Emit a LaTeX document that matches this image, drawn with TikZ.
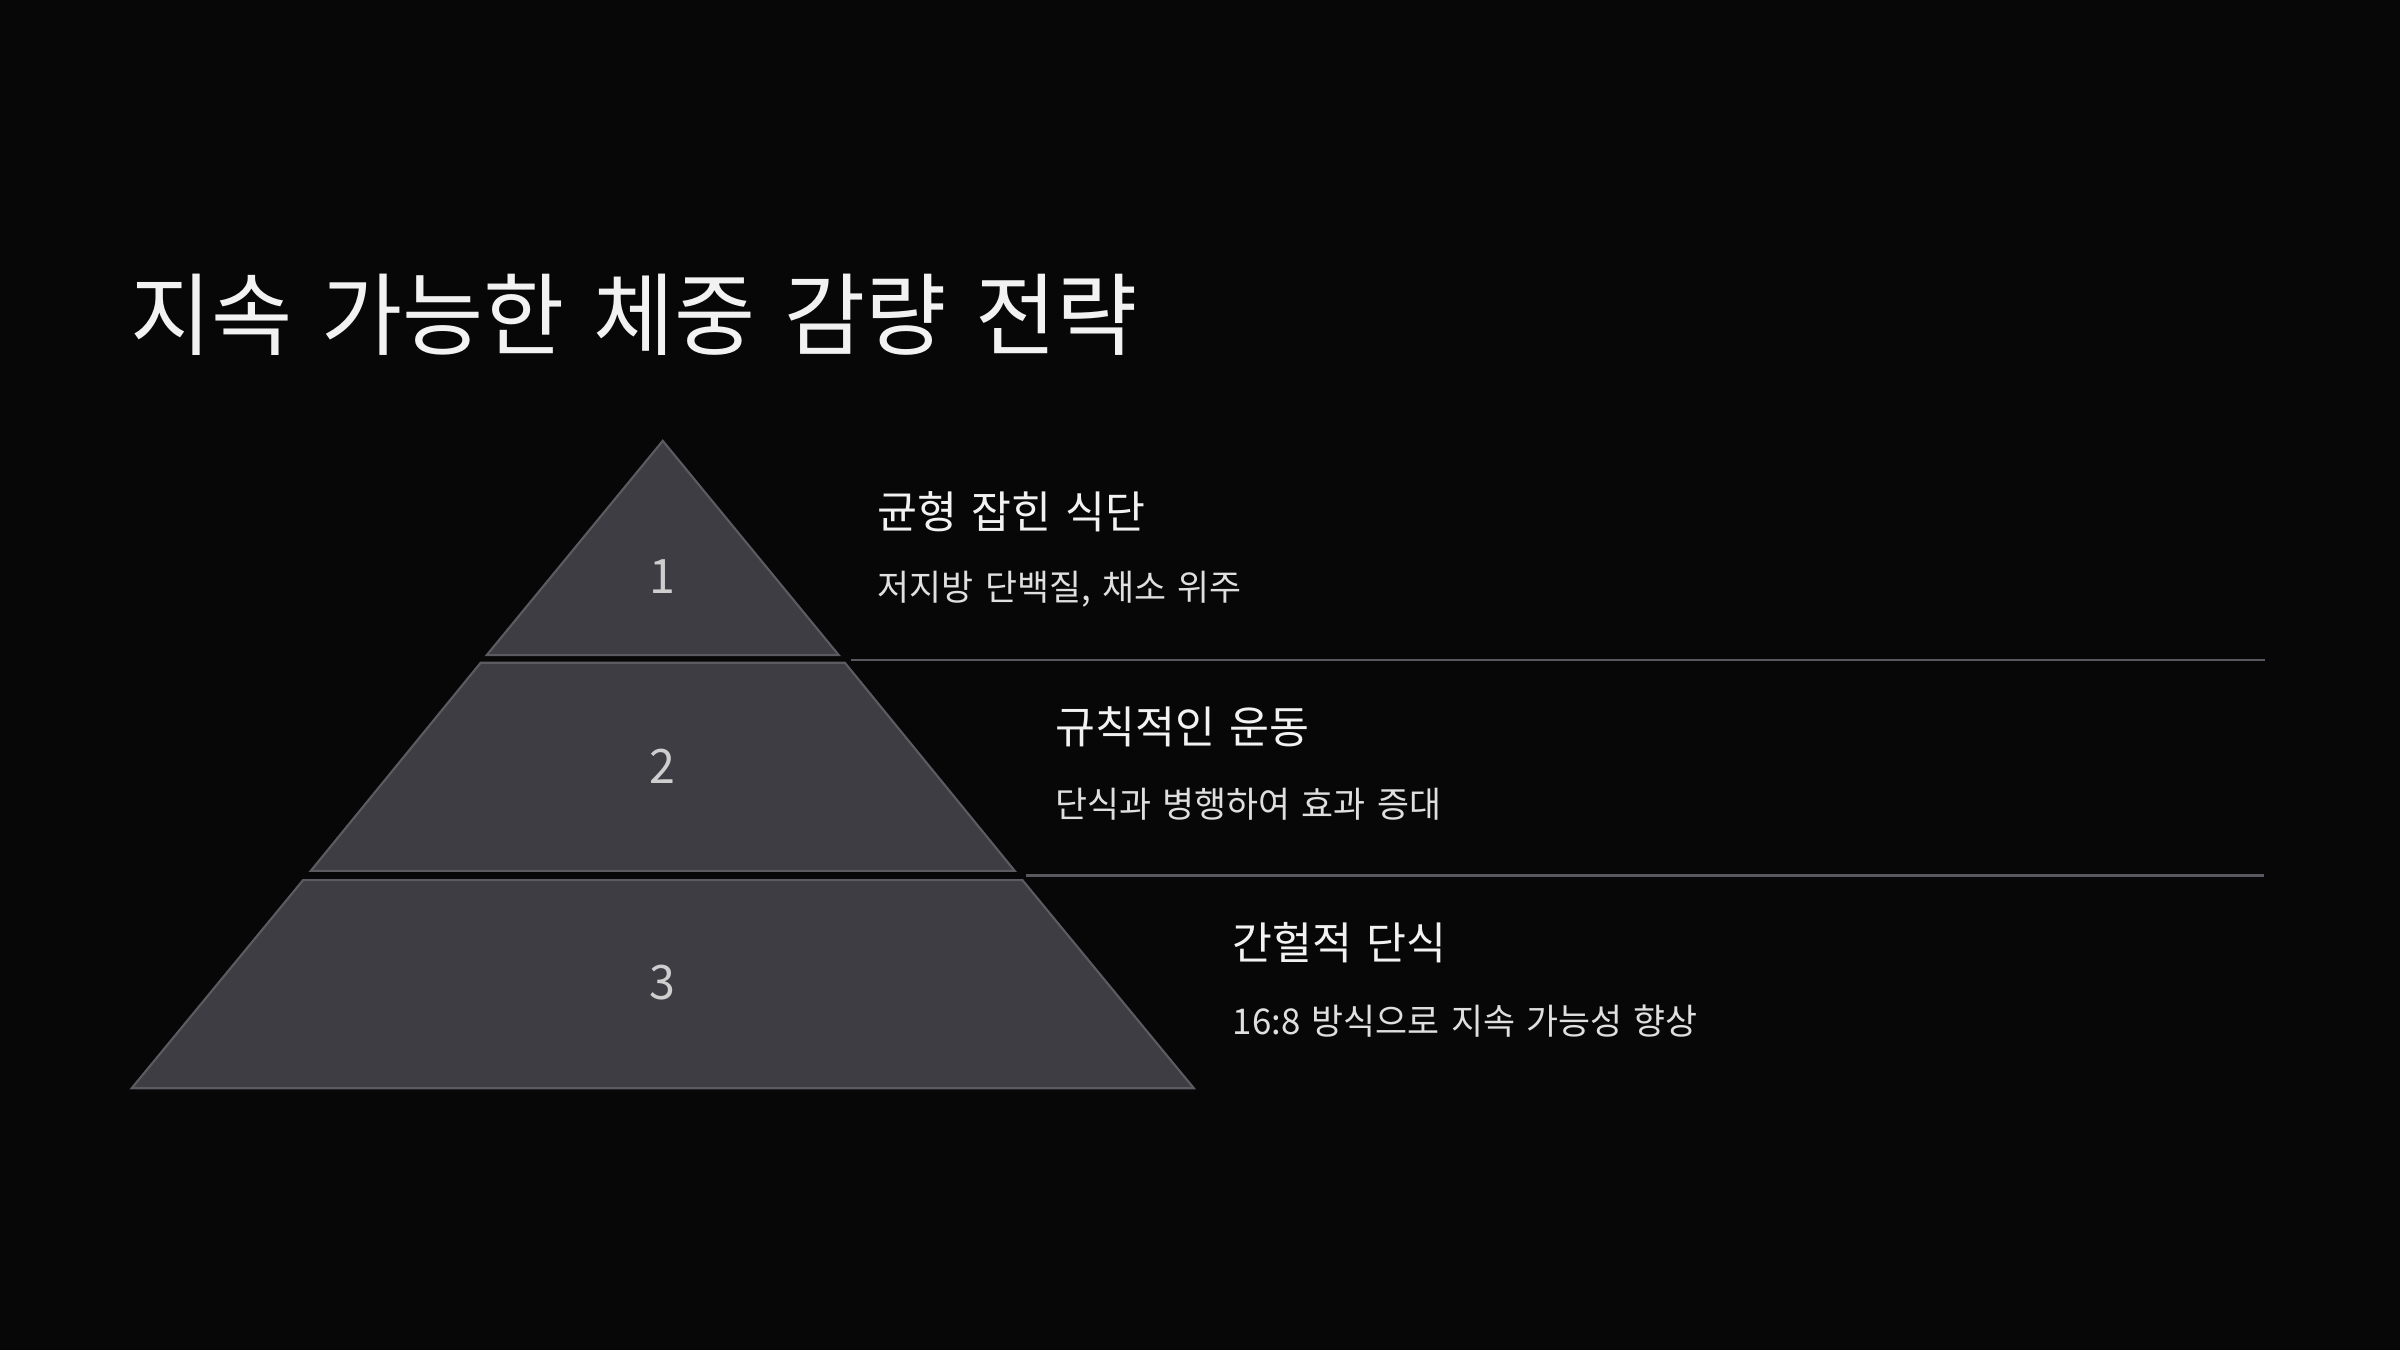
\documentclass[tikz,border=0pt]{standalone}
\usepackage{fontspec}
\setmainfont{Noto Sans CJK KR}[FakeStretch=0.98, WordSpace=1.45]
\usetikzlibrary{positioning}
\definecolor{bgblack}{RGB}{7,7,7}
\definecolor{tierfill}{RGB}{62,61,68}
\definecolor{tierline}{RGB}{92,91,98}
\definecolor{textwhite}{RGB}{242,242,242}
\definecolor{rulegray}{RGB}{88,88,94}

\begin{document}
\begin{tikzpicture}[
  x=0.015306cm, y=-0.015306cm,
  T/.style={draw=tierline, fill=tierfill, line width=0.6pt},
  num/.style={anchor=base, inner sep=0pt, text=textwhite!85!black,
              font=\fontsize{13.5}{16}\selectfont},
  head/.style={anchor=base west, inner sep=0pt, text=textwhite,
               font=\fontsize{12.6}{15}\selectfont},
  sub/.style={anchor=base west, inner sep=0pt, text=textwhite!92!black,
              font=\fontsize{10.1}{12}\selectfont},
  sep/.style={draw=rulegray, line width=0.6pt},
]
\fill[bgblack] (0,0) rectangle (1568,882);
\useasboundingbox (0,0) rectangle (1568,882);

\node[anchor=base west, inner sep=0pt, text=textwhite,
      font=\fontsize{25.6}{30}\selectfont] (title) at (85,228)
      {지속 가능한 체중 감량 전략};

% pyramid tiers, top to bottom
\draw[T] (433,288) -- (548,428) -- (318,428) -- cycle;
\draw[T] (314,433) -- (552,433) -- (663,569) -- (203,569) -- cycle;
\draw[T] (198,575) -- (668,575) -- (780,711) -- (86,711) -- cycle;

\node[num] (n1) at (433,388) {1};
\node[num] (n2) at (433,512) {2};
\node[num] (n3) at (433,653) {3};

% separators
\coordinate (s1a) at (556,431);
\coordinate (s1b) at (1480,431);
\coordinate (s2a) at (670,572);
\coordinate (s2b) at (1479,572);
\draw[sep] (s1a) -- (s1b);
\draw[sep] (s2a) -- (s2b);

% labels
\node[head] (h1) at (573,345) {균형 잡힌 식단};
\node[sub]  (d1) at (573,392) {저지방 단백질, 채소 위주};
\node[head] (h2) at (689,486) {규칙적인 운동};
\node[sub]  (d2) at (689,534) {단식과 병행하여 효과 증대};
\node[head] (h3) at (805,627) {간헐적 단식};
\node[sub]  (d3) at (805,676) {16:8 방식으로 지속 가능성 향상};

\end{tikzpicture}
\end{document}
